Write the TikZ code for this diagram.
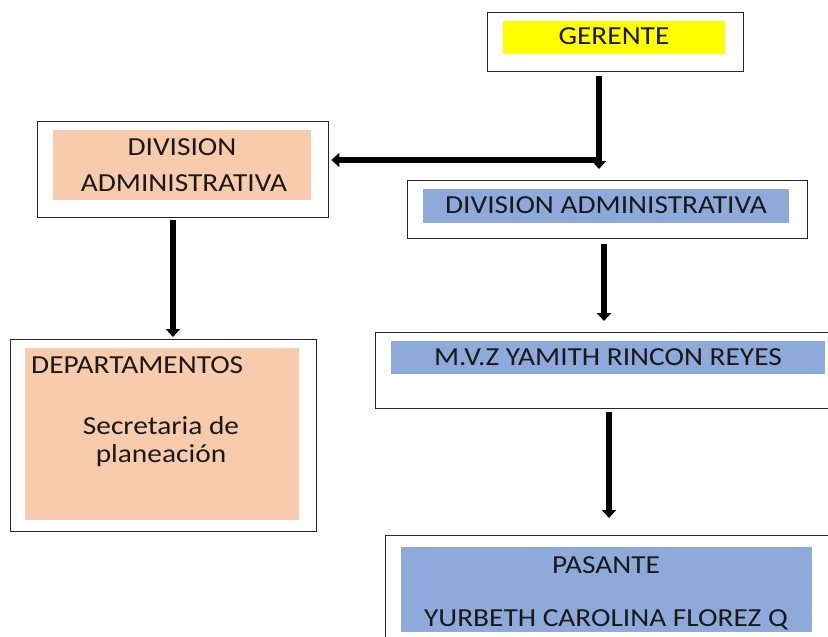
\documentclass[tikz,border=0pt]{standalone}
\usepackage{fontspec}
\setmainfont{Carlito}[FakeStretch=1.13]
\usetikzlibrary{arrows.meta}
\definecolor{salmon}{HTML}{F8CBAD}
\definecolor{bluefill}{HTML}{8EAADB}
\definecolor{yell}{HTML}{FFFF00}
\begin{document}
\begin{tikzpicture}[x=1pt,y=-1pt,
  outer/.style={draw=black!85,line width=1.4pt,fill=white,rectangle,inner sep=0pt,anchor=north west},
  fillbox/.style={rectangle,inner sep=0pt,draw=none,anchor=north west},
  txt/.style={anchor=base,inner sep=0pt,text=black!90,font=\fontsize{26}{34}\selectfont},
  arr/.style={line width=6pt,-{Triangle[width=14pt,length=8pt]}},
  bar/.style={line width=6pt}]
\useasboundingbox (0,0) rectangle (828,637);
\clip (0,0) rectangle (828,637);
% outer boxes
\node[outer,minimum width=256pt,minimum height=59pt] (gerente) at (487,12) {};
\node[outer,minimum width=291pt,minimum height=96pt] (divL) at (37,121) {};
\node[outer,minimum width=400pt,minimum height=58pt] (divR) at (407,180) {};
\node[outer,minimum width=470pt,minimum height=76pt] (mvz) at (375,332) {};
\node[outer,minimum width=306pt,minimum height=192pt] (dept) at (10,339) {};
\node[outer,minimum width=470pt,minimum height=130pt] (pas) at (385,535) {};
% fills
\node[fillbox,fill=yell,minimum width=222pt,minimum height=33pt] (gfill) at (503,21) {};
\node[fillbox,fill=salmon,minimum width=258pt,minimum height=70pt] (dlfill) at (53,130) {};
\node[fillbox,fill=bluefill,minimum width=366pt,minimum height=34pt] (drfill) at (423,189) {};
\node[fillbox,fill=bluefill,minimum width=434pt,minimum height=33pt] (mfill) at (391,341) {};
\node[fillbox,fill=salmon,minimum width=274pt,minimum height=172pt] (dfill) at (25,348) {};
\node[fillbox,fill=bluefill,minimum width=411pt,minimum height=85pt] (pfill) at (401,547) {};
% texts
\node[txt] (t1) at (614,45) {GERENTE};
\node[txt] (t2) at (182,155) {DIVISION};
\node[txt] (t3) at (184,191) {ADMINISTRATIVA};
\node[txt] (t4) at (606,213) {DIVISION ADMINISTRATIVA};
\node[txt] (t5) at (608,365) {M.V.Z YAMITH RINCON REYES};
\node[txt,anchor=base west] (t6) at (31,373) {DEPARTAMENTOS};
\node[txt] (t7) at (161,434) {Secretaria de};
\node[txt] (t8) at (161,462) {planeación};
\node[txt] (t9) at (606,573) {PASANTE};
\node[txt] (t10) at (606,626) {YURBETH CAROLINA FLOREZ Q};
% connectors
\coordinate (j) at (599,160);
\coordinate (jt) at (599,169);
\coordinate (a) at (173,0);
\coordinate (b) at (604,0);
\coordinate (c) at (609,0);
\draw[arr,shorten <=4pt] (gerente.south -| j) -- (jt);
\draw[arr,shorten >=2pt] (j) -- (divL.east |- j);
\draw[arr,shorten <=2pt,shorten >=2pt] (divL.south -| a) -- (dept.north -| a);
\draw[arr,shorten <=5pt,shorten >=11pt] (divR.south -| b) -- (mvz.north -| b);
\draw[arr,shorten <=3pt,shorten >=17pt] (mvz.south -| c) -- (pas.north -| c);
\end{tikzpicture}
\end{document}
